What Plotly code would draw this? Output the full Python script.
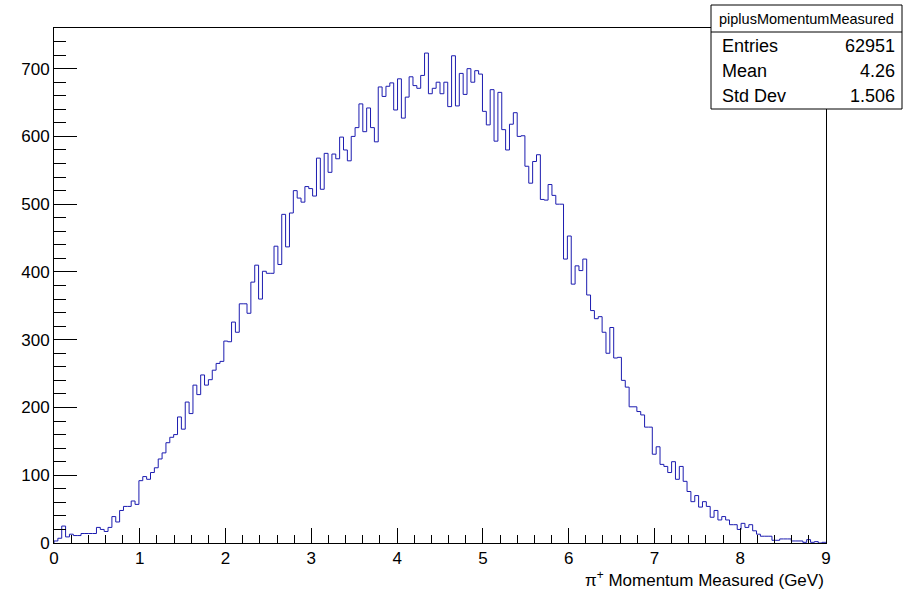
import numpy as np
import plotly.graph_objects as go

# Histogram definition: 200 bins between 0 and 9 GeV
x_min, x_max, n_bins = 0.0, 9.0, 200

# Bin contents of piplusMomentumMeasured
counts = [
    3, 7, 25, 9, 13, 11, 11, 14, 14, 14,
    14, 23, 20, 17, 23, 39, 31, 48, 54, 54,
    62, 57, 92, 98, 94, 104, 111, 124, 133, 148,
    156, 160, 186, 168, 208, 191, 233, 219, 248, 233,
    241, 255, 265, 268, 298, 297, 326, 311, 353, 353,
    339, 385, 410, 360, 401, 398, 398, 438, 411, 485,
    437, 487, 520, 509, 503, 526, 523, 512, 568, 522,
    575, 547, 574, 567, 599, 580, 564, 600, 613, 648,
    607, 642, 613, 592, 673, 659, 674, 679, 639, 685,
    627, 658, 688, 675, 671, 690, 723, 663, 671, 680,
    663, 680, 644, 719, 645, 693, 662, 700, 680, 697,
    692, 637, 617, 669, 593, 665, 610, 580, 618, 635,
    600, 601, 556, 531, 563, 573, 507, 506, 529, 513,
    500, 500, 419, 453, 382, 409, 402, 419, 366, 343,
    331, 334, 311, 280, 318, 273, 274, 240, 230, 201,
    201, 194, 189, 171, 171, 131, 142, 116, 113, 104,
    120, 94, 113, 91, 76, 61, 70, 53, 61, 54,
    38, 48, 34, 39, 34, 27, 27, 20, 29, 23,
    27, 18, 13, 10, 10, 10, 4, 4, 6, 6,
    6, 3, 3, 3, 1, 5, 1, 2, 0, 1,
]

# Statistics box contents
stats_title = "piplusMomentumMeasured"
stats_labels = ["Entries", "Mean", "Std Dev"]
stats_values = ["62951", "4.26", "1.506"]

x_title = "π<sup>+</sup> Momentum Measured (GeV)"
y_max = 760

edges = np.linspace(x_min, x_max, n_bins + 1)
step_x = np.concatenate([[edges[0]], edges])
step_y = np.concatenate([[0], counts, [counts[-1]]])

FONT = "Liberation Sans, Arial, Helvetica, sans-serif"

fig = go.Figure()
fig.add_trace(go.Scatter(
    x=step_x, y=step_y, mode="lines", line_shape="hv",
    line=dict(color="#1c1cb0", width=1), hoverinfo="skip", showlegend=False,
))

axis_common = dict(
    showgrid=False, zeroline=False, showline=True, linecolor="black",
    linewidth=1, mirror=True, ticks="inside", tickcolor="black", tickwidth=1,
    tickfont=dict(family=FONT, size=17, color="black"),
)
fig.update_xaxes(
    range=[x_min, x_max], tick0=0, dtick=1, ticklen=15,
    minor=dict(dtick=0.2, ticklen=8, ticks="inside", tickcolor="black", tickwidth=1),
    **axis_common,
)
fig.update_yaxes(
    range=[0, y_max], tick0=0, dtick=100, ticklen=23,
    minor=dict(dtick=20, ticklen=12, ticks="inside", tickcolor="black", tickwidth=1),
    **axis_common,
)

# Pixel geometry of the frame, used to place the stats box in paper units
L, R, T, B = 54, 826, 28, 543
def px(xp):
    return (xp - L) / (R - L)
def py(yp):
    return (B - yp) / (B - T)

shapes = [
    dict(type="rect", xref="paper", yref="paper",
         x0=px(711), x1=px(902), y0=py(109), y1=py(5),
         line=dict(color="black", width=1), fillcolor="white", layer="above"),
    dict(type="line", xref="paper", yref="paper",
         x0=px(711), x1=px(902), y0=py(32), y1=py(32),
         line=dict(color="black", width=1), layer="above"),
]

annotations = [
    dict(text=stats_title, xref="paper", yref="paper", x=px(806.5), y=py(19),
         xanchor="center", yanchor="middle", showarrow=False,
         font=dict(family=FONT, size=14.5, color="black")),
    dict(text=x_title, xref="paper", yref="paper", x=1.0, y=py(579),
         xanchor="right", yanchor="middle", showarrow=False,
         font=dict(family=FONT, size=17, color="black")),
]
row_y = [46.5, 71, 95.5]
for lab, val, yy in zip(stats_labels, stats_values, row_y):
    annotations.append(dict(text=lab, xref="paper", yref="paper", x=px(720), y=py(yy),
                            xanchor="left", yanchor="middle", showarrow=False,
                            font=dict(family=FONT, size=18, color="black")))
    annotations.append(dict(text=val, xref="paper", yref="paper", x=px(897), y=py(yy),
                            xanchor="right", yanchor="middle", showarrow=False,
                            font=dict(family=FONT, size=18, color="black")))

fig.update_layout(
    width=904, height=592,
    margin=dict(l=L, r=904 - R, t=T, b=592 - B),
    paper_bgcolor="white", plot_bgcolor="white",
    shapes=shapes, annotations=annotations, showlegend=False,
)

fig.write_html("out.html")
